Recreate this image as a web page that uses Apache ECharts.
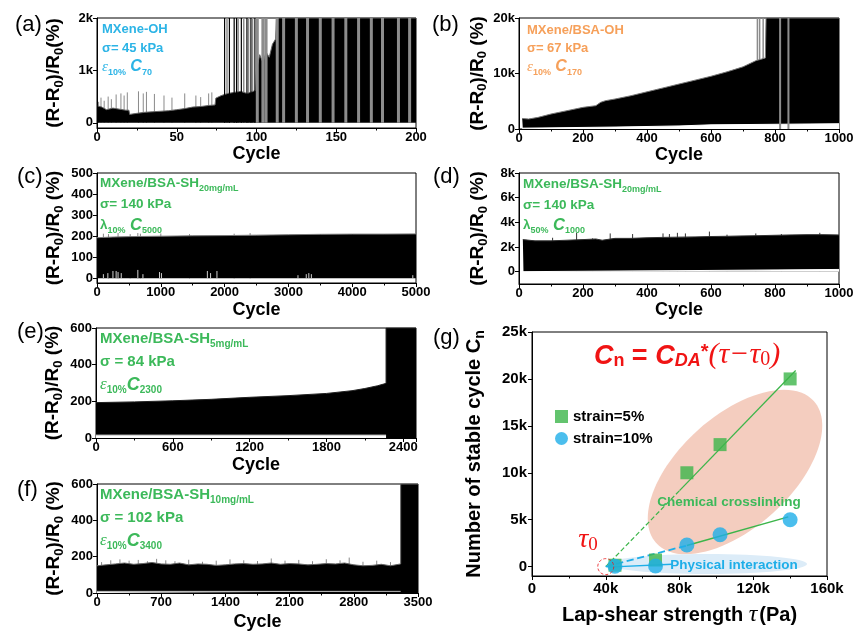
<!DOCTYPE html>
<html><head><meta charset="utf-8">
<script src="https://cdn.jsdelivr.net/npm/echarts@6/dist/echarts.min.js"></script>
<style>html,body{margin:0;padding:0;background:#fff}#c{width:865px;height:635px}</style>
</head><body><div id="c"></div>
<script>
// ---------------- DATA ----------------
// (a) MXene-OH : upper envelope of the dense signal
const aTopX = [0.5, 3, 6, 10, 14, 18, 20, 20.5, 25, 30, 35, 40, 45, 50, 55, 60, 65, 70, 74, 74.5, 78, 82, 86, 90, 94, 98, 99.5, 100, 102, 104, 106, 108, 110, 112, 112.5, 200];
const aTopY = [320, 300, 250, 280, 260, 240, 240, 160, 180, 200, 210, 220, 230, 250, 270, 300, 310, 330, 340, 470, 520, 560, 580, 600, 560, 600, 620, 1000, 1300, 1150, 1350, 1250, 1500, 1600, 2000, 2000];
const aSpikeX = [1, 2.5, 4.5, 7, 9, 12, 15, 17, 19, 26, 29, 31, 36, 42, 47, 55, 62, 65, 70, 72];
const aSpikeY = [400, 480, 420, 500, 450, 540, 560, 520, 580, 600, 560, 590, 550, 520, 480, 560, 520, 490, 560, 580];
const aTallX = [80, 83, 86, 87.5, 90.5, 94, 96.5, 99];
const aTallY = [2000, 2000, 2000, 2000, 2000, 2000, 2000, 2000];
const aGrayTallX = [81.5, 88.5, 92, 95, 97.5];
const aGrayTallY = [2000, 2000, 2000, 2000, 2000];
const aStripeX = [100.5, 104, 106, 113, 117, 125, 132, 140, 148, 156, 164, 172, 179, 189, 196];
const aStripeY = [2000, 2000, 2000, 2000, 2000, 2000, 2000, 2000, 2000, 2000, 2000, 2000, 2000, 2000, 2000];

// (b) MXene/BSA-OH
const bTopX = [10, 12, 30, 60, 100, 150, 200, 240, 255, 270, 300, 350, 400, 450, 500, 550, 600, 650, 700, 740, 770, 772, 1000];
const bTopY = [1900, 1700, 1800, 2100, 2700, 3300, 3900, 4200, 4800, 5100, 5400, 6000, 6700, 7400, 8100, 8800, 9500, 10300, 11200, 12300, 12800, 20000, 20000];
const bLowX = [10, 300, 500, 600, 800, 1000];
const bLowY = [150, 350, 550, 750, 850, 950];
const bSpikeX = [745, 752, 763];
const bSpikeY = [20000, 20000, 20000];
const bStripeX = [816, 842];
const bStripeY = [20000, 20000];

// (c) MXene/BSA-SH 20mg/mL, lambda 10%
const cTopX = [0, 250, 500, 750, 1000, 1500, 2000, 2500, 3000, 3500, 4000, 4500, 5000];
const cTopY = [193, 196, 198, 199, 200, 202, 203, 205, 207, 209, 210, 210, 211];
const cSpikeX = [100, 180, 330, 520, 640, 680, 1000, 1450, 2150, 2400];
const cSpikeY = [212, 210, 215, 210, 215, 212, 213, 210, 212, 215];
const cLowSpikeX = [100, 170, 250, 300, 330, 380, 640, 720, 980, 1010, 1730, 1780, 1880, 3150, 3280, 3320, 3360, 4950];
const cLowSpikeY = [20, 25, 35, 35, 30, 25, 40, 20, 30, 25, 35, 25, 35, 15, 20, 25, 20, 15];

// (d) MXene/BSA-SH 20mg/mL, lambda 50%
const dTopX = [12, 14, 50, 100, 150, 200, 240, 260, 300, 350, 400, 450, 500, 550, 600, 650, 700, 750, 800, 850, 900, 950, 1000];
const dTopY = [2600, 2550, 2500, 2500, 2550, 2600, 2650, 2550, 2700, 2700, 2750, 2780, 2800, 2820, 2850, 2870, 2900, 2920, 2950, 2980, 3000, 3000, 2980];
const dSpikeX = [105, 180, 230, 285, 355, 450, 470, 495, 520, 595, 650, 740, 820, 940];
const dSpikeY = [2750, 3150, 2700, 3100, 3050, 3100, 3050, 3150, 3100, 3250, 3000, 3100, 3050, 3150];
const dLowX = [12, 300, 600, 1000];
const dLowY = [0, 50, 100, 180];

// (e) MXene/BSA-SH 5mg/mL
const eTopX = [0, 300, 600, 900, 1200, 1500, 1800, 2000, 2100, 2200, 2266, 2266, 2500];
const eTopY = [193, 197, 203, 211, 222, 231, 243, 258, 270, 285, 298, 600, 600];
const eLowX = [0, 2266];
const eLowY = [16, 16];

// (f) MXene/BSA-SH 10mg/mL
const fTopX = [0, 100, 200, 300, 400, 500, 600, 700, 800, 900, 1000, 1100, 1200, 1300, 1400, 1500, 1600, 1700, 1800, 1900, 2000, 2100, 2200, 2300, 2400, 2500, 2600, 2700, 2800, 2900, 3000, 3100, 3200, 3311, 3311, 3500];
const fTopY = [150, 155, 160, 165, 158, 162, 168, 160, 158, 165, 155, 160, 158, 152, 155, 160, 162, 158, 160, 165, 158, 162, 160, 155, 158, 162, 160, 165, 155, 150, 152, 158, 150, 160, 600, 600];
const fSpikeX = [50, 150, 250, 350, 450, 550, 650, 750, 850, 1000, 1150, 1300, 1450, 1600, 1750, 1900, 2050, 2200, 2350, 2500, 2650, 2750, 2900, 3050, 3200];
const fSpikeY = [170, 180, 185, 178, 182, 175, 188, 180, 175, 183, 172, 178, 185, 180, 176, 190, 178, 182, 175, 186, 180, 195, 172, 178, 170];
const fLowX = [0, 3311];
const fLowY = [9, 9];

// (g) stable cycles vs lap-shear strength
const gTau = [45000, 67000, 84000, 102000, 140000];
const gStrain5 = [150, 700, 10000, 13000, 20000];
const gStrain10 = [50, 70, 2300, 3400, 5000];
const gFit5DashX = [40000, 80000], gFit5DashY = [0, 8100];
const gFit5X = [80000, 143000], gFit5Y = [8100, 20900];
const gFit10DashX = [40000, 84000], gFit10DashY = [0, 2250];
const gFit10X = [84000, 139000], gFit10Y = [2250, 5300];
const gPhysX = [41000, 76000], gPhysY = [-50, 250];
const gTau0 = [[40000, 0]];

// ---------------- CHART ----------------
const fam = 'Arial, "Liberation Sans", sans-serif';
const serif = '"Liberation Serif", "Times New Roman", serif';
const zip = (xs, ys) => xs.map((x, i) => [x, ys[i]]);
const kfmt = v => v === 0 ? '0' : (v / 1000) + 'k';
const pfmt = v => String(v);

const grids = [
  {left: 97, top: 18, width: 319, height: 110},
  {left: 519, top: 18, width: 320, height: 111},
  {left: 97, top: 173, width: 319, height: 110},
  {left: 519, top: 173, width: 320, height: 111},
  {left: 96, top: 328, width: 320, height: 110},
  {left: 97, top: 484, width: 321, height: 109},
  {left: 532, top: 332, width: 295, height: 244}
].map(g => Object.assign({show: true, borderColor: '#000', borderWidth: 1, backgroundColor: 'transparent'}, g));

const subRich = (size) => ({s: {fontSize: size, fontWeight: 'bold', fontFamily: fam, verticalAlign: 'bottom', lineHeight: 11, color: '#000'}});

function xAx(gi, min, max, interval, gap, extra) {
  return Object.assign({
    type: 'value', gridIndex: gi, min, max, interval,
    axisLine: {show: true, onZero: false, lineStyle: {color: '#000', width: 1}},
    axisTick: {show: true, length: 4, lineStyle: {color: '#000'}},
    minorTick: {show: true, splitNumber: 2, length: 2.5, lineStyle: {color: '#000'}},
    splitLine: {show: false},
    axisLabel: {color: '#000', fontWeight: 'bold', fontSize: 13, fontFamily: fam, margin: 3, formatter: pfmt},
    name: 'Cycle', nameLocation: 'middle', nameGap: gap,
    nameTextStyle: {color: '#000', fontWeight: 'bold', fontSize: 18, fontFamily: fam}
  }, extra || {});
}
function yAx(gi, min, max, ticks, fmt, name, gap, extra) {
  return Object.assign({
    type: 'value', gridIndex: gi, min, max,
    axisLine: {show: true, onZero: false, lineStyle: {color: '#000', width: 1}},
    axisTick: {show: true, length: 4, customValues: ticks, lineStyle: {color: '#000'}},
    splitLine: {show: false},
    axisLabel: {customValues: ticks, formatter: fmt, color: '#000', fontWeight: 'bold', fontSize: 13, fontFamily: fam, margin: 4},
    name, nameLocation: 'middle', nameGap: gap,
    nameTextStyle: {color: '#000', fontWeight: 'bold', fontSize: 19, lineHeight: 24, fontFamily: fam, rich: subRich(13)}
  }, extra || {});
}
const yName1 = '(R-R{s|0})/R{s|0}(%)';
const yName2 = '(R-R{s|0})/R{s|0} (%)';

const xAxes = [
  xAx(0, 0, 200, 50, 11),
  xAx(1, 0, 1000, 200, 15),
  xAx(2, 0, 5000, 1000, 18),
  xAx(3, 0, 1000, 200, 17),
  xAx(4, 0, 2500, 600, 18, {axisLabel: {color: '#000', fontWeight: 'bold', fontSize: 13, fontFamily: fam, margin: 3, showMaxLabel: false, formatter: pfmt}}),
  xAx(5, 0, 3500, 700, 20),
  xAx(6, 0, 160000, 40000, 27, {
    axisLabel: {color: '#000', fontWeight: 'bold', fontSize: 15, fontFamily: fam, margin: 5, formatter: kfmt},
    name: 'Lap-shear strength {it|τ}(Pa)',
    nameTextStyle: {color: '#000', fontWeight: 'bold', fontSize: 20, fontFamily: fam,
      rich: {it: {fontStyle: 'italic', fontFamily: serif, fontSize: 24, fontWeight: 'normal', color: '#000', padding: [0, 2, 0, 0]}}}
  })
];
const yAxes = [
  yAx(0, -100, 2000, [0, 1000, 2000], kfmt, yName1, 31),
  yAx(1, 0, 20000, [0, 10000, 20000], kfmt, yName2, 25),
  yAx(2, -22, 500, [0, 100, 200, 300, 400, 500], pfmt, yName2, 31),
  yAx(3, -1000, 8000, [0, 2000, 4000, 6000, 8000], kfmt, yName2, 29),
  yAx(4, 0, 600, [0, 200, 400, 600], pfmt, yName2, 31),
  yAx(5, 0, 600, [0, 200, 400, 600], pfmt, yName2, 31),
  yAx(6, -1000, 25000, [0, 5000, 10000, 15000, 20000, 25000], kfmt, 'Number of stable cycle C{s|n}', 45, {
    axisLabel: {customValues: [0, 5000, 10000, 15000, 20000, 25000], formatter: kfmt, color: '#000', fontWeight: 'bold', fontSize: 15, fontFamily: fam, margin: 5},
    nameTextStyle: {color: '#000', fontWeight: 'bold', fontSize: 20, lineHeight: 26, fontFamily: fam, rich: subRich(14)}
  })
];

function area(gi, pts, fill, stroke, z, sw) {
  return {type: 'line', xAxisIndex: gi, yAxisIndex: gi, data: pts, symbol: 'none', silent: true,
    lineStyle: {color: stroke, width: sw || 1}, areaStyle: {color: fill, opacity: 1}, z: z || 2};
}
function spk(gi, xs, ys, color, w, z) {
  const d = [];
  xs.forEach((x, i) => { d.push([x, 0], [x, ys[i]], [x, '-']); });
  return {type: 'line', xAxisIndex: gi, yAxisIndex: gi, data: d, symbol: 'none', silent: true,
    connectNulls: false, lineStyle: {color, width: w}, z: z};
}
const GREEN = '#3cb54a', BLUE = '#1eaee8';
function fit(xs, ys, color, w, type) {
  return {type: 'line', xAxisIndex: 6, yAxisIndex: 6, data: zip(xs, ys), symbol: 'none', silent: true,
    lineStyle: {color, width: w, type}, z: 3};
}

const series = [
  // (a)
  spk(0, aSpikeX, aSpikeY, '#8a8a8a', 1, 1),
  spk(0, aGrayTallX, aGrayTallY, '#8c8c8c', 1.5, 1),
  area(0, zip(aTopX, aTopY), '#000', '#666'),
  spk(0, aTallX, aTallY, '#000', 1.2, 4),
  spk(0, aStripeX, aStripeY, '#8c8c8c', 3, 4),
  // (b)
  spk(1, bSpikeX, bSpikeY, '#8c8c8c', 1.5, 1),
  area(1, zip(bTopX, bTopY), '#000', '#777'),
  area(1, zip(bLowX, bLowY), '#fff', '#fff', 3),
  spk(1, bStripeX, bStripeY, '#8c8c8c', 2, 4),
  // (c)
  spk(2, cSpikeX, cSpikeY, '#888', 1, 1),
  area(2, zip(cTopX, cTopY), '#000', '#777'),
  spk(2, cLowSpikeX, cLowSpikeY, '#cfcfcf', 1, 4),
  // (d)
  spk(3, dSpikeX, dSpikeY, '#333', 1, 1),
  area(3, zip(dTopX, dTopY), '#000', '#333'),
  area(3, zip(dLowX, dLowY), '#fff', '#fff', 3),
  // (e)
  area(4, zip(eTopX, eTopY), '#000', '#222'),
  area(4, zip(eLowX, eLowY), '#fff', '#bbb', 3),
  // (f)
  spk(5, fSpikeX, fSpikeY, '#888', 1, 1),
  area(5, zip(fTopX, fTopY), '#000', '#666'),
  area(5, zip(fLowX, fLowY), '#fff', '#bbb', 3),
  // (g)
  fit(gFit5DashX, gFit5DashY, GREEN, 1.2, 'dashed'),
  fit(gFit5X, gFit5Y, GREEN, 1.3, 'solid'),
  fit(gFit10DashX, gFit10DashY, BLUE, 1.8, 'dashed'),
  fit(gFit10X, gFit10Y, GREEN, 1.5, 'solid'),
  fit(gPhysX, gPhysY, BLUE, 1.3, 'solid'),
  {type: 'scatter', name: 'strain=5%', xAxisIndex: 6, yAxisIndex: 6, data: zip(gTau, gStrain5), symbol: 'rect', symbolSize: 13, itemStyle: {color: GREEN}, z: 5},
  {type: 'scatter', name: 'strain=10%', xAxisIndex: 6, yAxisIndex: 6, data: zip(gTau, gStrain10), symbol: 'circle', symbolSize: 15, itemStyle: {color: BLUE}, z: 6},
  {type: 'scatter', xAxisIndex: 6, yAxisIndex: 6, data: gTau0, symbol: 'circle', symbolSize: 16, silent: true,
    itemStyle: {color: 'rgba(0,0,0,0)', borderColor: '#e8171b', borderWidth: 1, borderType: [3, 2]}, z: 7}
];

function rich(color, size) {
  return {
    m: {fontSize: size, fontWeight: 'bold', fontFamily: fam, fill: color, lineHeight: 20},
    s: {fontSize: Math.round(size * 0.68), fontWeight: 'bold', fontFamily: fam, fill: color, verticalAlign: 'bottom', lineHeight: 10},
    bi: {fontSize: size + 3, fontWeight: 'bold', fontStyle: 'italic', fontFamily: fam, fill: color, lineHeight: 20},
    it: {fontSize: size + 2, fontStyle: 'italic', fontWeight: 'normal', fontFamily: serif, fill: color, lineHeight: 20}
  };
}
function T(x, y, text, color, size) {
  return {type: 'text', x, y, z: 100, silent: true,
    style: {text, fill: color, fontSize: size, fontWeight: 'bold', fontFamily: fam, verticalAlign: 'middle', align: 'left', rich: rich(color, size)}};
}
function label(x, y, t) {
  return {type: 'text', x, y, z: 100, silent: true, style: {text: t, fill: '#000', fontSize: 22, fontFamily: fam, verticalAlign: 'middle'}};
}
const CY = '#2cb4e6', OR = '#f6a05a', GR = '#3cb95a', RED = '#f01414';
const graphic = [
  label(15, 25, '(a)'), label(432, 25, '(b)'), label(17, 177, '(c)'), label(433, 177, '(d)'),
  label(17, 332, '(e)'), label(17, 490, '(f)'), label(433, 338, '(g)'),
  T(102, 29, '{m|MXene-OH}', CY, 13), T(102, 48, '{m|σ= 45 kPa}', CY, 13), T(102, 67, '{it|ε}{s|10%}{bi| C}{s|70}', CY, 13),
  T(527, 30, '{m|MXene/BSA-OH}', OR, 13), T(527, 48, '{m|σ= 67 kPa}', OR, 13), T(527, 67, '{it|ε}{s|10%}{bi| C}{s|170}', OR, 13),
  T(100, 183, '{m|MXene/BSA-SH}{s|20mg/mL}', GR, 13.5), T(100, 204, '{m|σ= 140 kPa}', GR, 13.5), T(100, 225, '{m|λ}{s|10%}{bi| C}{s|5000}', GR, 13.5),
  T(523, 184, '{m|MXene/BSA-SH}{s|20mg/mL}', GR, 13.5), T(523, 205, '{m|σ= 140 kPa}', GR, 13.5), T(523, 225, '{m|λ}{s|50%}{bi| C}{s|1000}', GR, 13.5),
  T(100, 339, '{m|MXene/BSA-SH}{s|5mg/mL}', GR, 15), T(100, 362, '{m|σ = 84 kPa}', GR, 15), T(100, 385, '{it|ε}{s|10%}{bi|C}{s|2300}', GR, 15),
  T(100, 495, '{m|MXene/BSA-SH}{s|10mg/mL}', GR, 15), T(100, 518, '{m|σ = 102 kPa}', GR, 15), T(100, 541, '{it|ε}{s|10%}{bi|C}{s|3400}', GR, 15),
  // (g) decorations
  {type: 'ellipse', x: 735, y: 472, z: 0, silent: true, rotation: Math.PI / 180 * 42, shape: {cx: 0, cy: 0, rx: 106, ry: 56}, style: {fill: '#f4cdbf'}},
  {type: 'ellipse', x: 707, y: 564, z: 0, silent: true, shape: {cx: 0, cy: 0, rx: 100, ry: 10}, style: {fill: '#dcecf8'}},
  {type: 'text', x: 729, y: 502, z: 100, silent: true, style: {text: 'Chemical crosslinking', fill: GR, fontSize: 13.5, fontWeight: 'bold', fontFamily: fam, align: 'center', verticalAlign: 'middle'}},
  {type: 'text', x: 734, y: 565, z: 100, silent: true, style: {text: 'Physical interaction', fill: BLUE, fontSize: 13.5, fontWeight: 'bold', fontFamily: fam, align: 'center', verticalAlign: 'middle'}},
  {type: 'text', x: 588, y: 540, z: 100, silent: true, style: {text: '{t|τ}{z|0}', align: 'center', verticalAlign: 'middle',
    rich: {t: {fontSize: 28, fontStyle: 'italic', fontFamily: serif, fill: RED, lineHeight: 30},
           z: {fontSize: 19, fontFamily: serif, fill: RED, verticalAlign: 'bottom', lineHeight: 14}}}},
  {type: 'text', x: 687, y: 352, z: 100, silent: true, style: {text: '{C|C}{n|n}{e| = }{C|C}{d|DA}{st|*}{p|(τ−τ}{z|0}{p|)}', align: 'center', verticalAlign: 'middle',
    rich: {
      C: {fontSize: 27, fontWeight: 'bold', fontStyle: 'italic', fontFamily: fam, fill: RED, lineHeight: 34, verticalAlign: 'bottom'},
      n: {fontSize: 18, fontWeight: 'bold', fontFamily: fam, fill: RED, verticalAlign: 'bottom', lineHeight: 16},
      e: {fontSize: 27, fontWeight: 'bold', fontFamily: fam, fill: RED, lineHeight: 34, verticalAlign: 'bottom'},
      d: {fontSize: 18, fontWeight: 'bold', fontStyle: 'italic', fontFamily: fam, fill: RED, verticalAlign: 'bottom', lineHeight: 16},
      st: {fontSize: 20, fontWeight: 'bold', fontFamily: fam, fill: RED, verticalAlign: 'middle', lineHeight: 36},
      p: {fontSize: 30, fontStyle: 'italic', fontFamily: serif, fill: RED, lineHeight: 36, verticalAlign: 'bottom'},
      z: {fontSize: 20, fontFamily: serif, fill: RED, verticalAlign: 'bottom', lineHeight: 16}
    }}}
];

const chart = echarts.init(document.getElementById('c'), null, {renderer: 'canvas'});
chart.setOption({
  animation: false,
  backgroundColor: '#fff',
  grid: grids,
  xAxis: xAxes,
  yAxis: yAxes,
  legend: {data: ['strain=5%', 'strain=10%'], left: 550, top: 404, orient: 'vertical', itemGap: 7, itemWidth: 13, itemHeight: 13,
    selectedMode: false, textStyle: {fontSize: 15, fontWeight: 'bold', fontFamily: fam, color: '#000'}},
  series,
  graphic
});
</script></body></html>
